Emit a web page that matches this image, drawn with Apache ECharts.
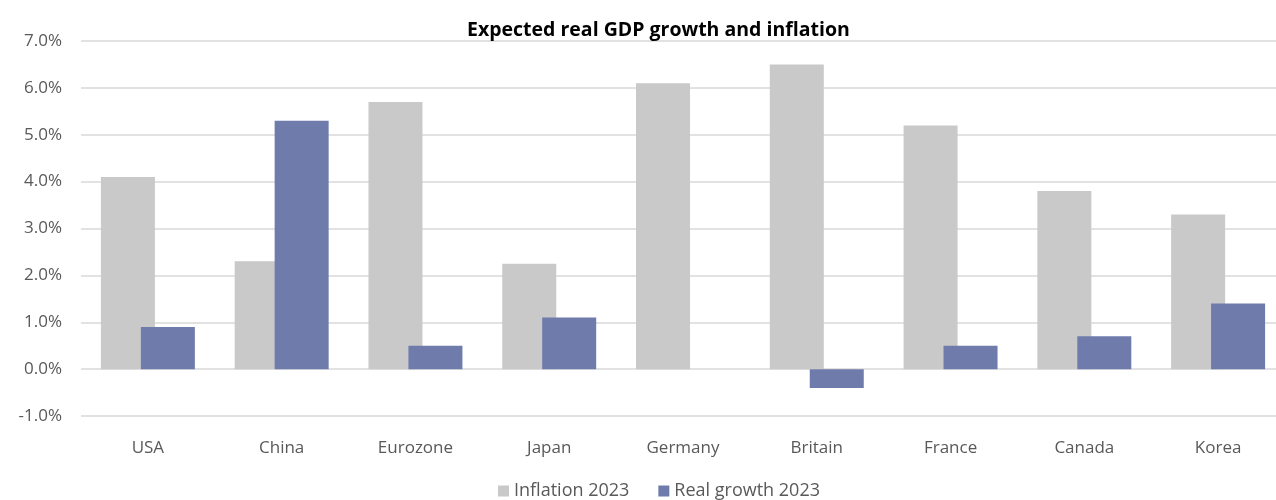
<!DOCTYPE html>
<html>
<head>
<meta charset="utf-8">
<script src="https://cdn.jsdelivr.net/npm/echarts@6/dist/echarts.min.js"></script>
<style>
  html, body { margin: 0; padding: 0; background: #fff; }
  #chart { width: 1276px; height: 500px; }
</style>
</head>
<body>
<div id="chart"></div>
<script>
const countries = ['USA', 'China', 'Eurozone', 'Japan', 'Germany', 'Britain', 'France', 'Canada', 'Korea']
const inflation2023 = [4.1, 2.3, 5.7, 2.25, 6.1, 6.5, 5.2, 3.8, 3.3]
const realGrowth2023 = [0.9, 5.3, 0.5, 1.1, 0, -0.4, 0.5, 0.7, 1.4]

const labelFont = '"Open Sans", sans-serif'

const chart = echarts.init(document.getElementById('chart'))
chart.setOption({
  animation: false,
  title: {
    text: 'Expected real GDP growth and inflation',
    left: 462,
    top: 15,
    textStyle: { fontFamily: labelFont, fontWeight: 'bold', fontSize: 19.5, color: '#000' }
  },
  legend: {
    top: 477,
    left: 493,
    itemWidth: 11,
    itemHeight: 11,
    itemGap: 29,
    icon: 'rect',
    textStyle: { fontFamily: labelFont, fontSize: 18, color: '#595959' },
    data: ['Inflation 2023', 'Real growth 2023']
  },
  grid: { left: 81, right: -9, top: 41, bottom: 84, outerBoundsMode: 'none' },
  xAxis: {
    type: 'category',
    data: countries,
    axisLine: { show: false },
    axisTick: { show: false },
    axisLabel: { fontFamily: labelFont, fontSize: 17, color: '#595959', margin: 24 }
  },
  yAxis: {
    type: 'value',
    min: -1,
    max: 7,
    interval: 1,
    axisLine: { show: false },
    axisTick: { show: false },
    axisLabel: {
      fontFamily: labelFont, fontSize: 17, color: '#595959', margin: 19,
      formatter: v => v.toFixed(1) + '%'
    },
    splitLine: { lineStyle: { color: '#d9d9d9', width: 1.5 } }
  },
  series: [
    {
      name: 'Inflation 2023',
      type: 'bar',
      data: inflation2023,
      barWidth: 54,
      barGap: '-26%',
      itemStyle: { color: '#c9c9c9' }
    },
    {
      name: 'Real growth 2023',
      type: 'bar',
      data: realGrowth2023,
      barWidth: 54,
      itemStyle: { color: '#6f7bab' }
    }
  ]
})
</script>
</body>
</html>
